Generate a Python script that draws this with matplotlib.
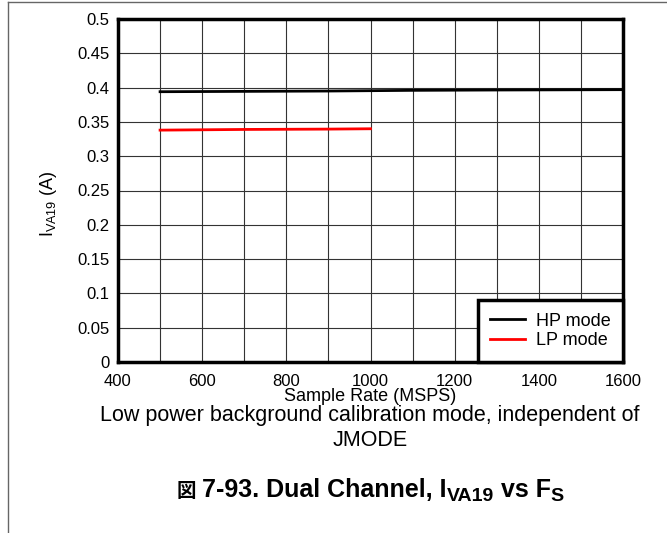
import matplotlib
matplotlib.use("Agg")
import matplotlib.pyplot as plt
from matplotlib.lines import Line2D

plt.rcParams['font.family'] = ['Liberation Sans', 'Noto Sans CJK JP', 'DejaVu Sans']
plt.rcParams['mathtext.fontset'] = 'custom'
plt.rcParams['mathtext.rm'] = 'Liberation Sans'
plt.rcParams['mathtext.it'] = 'Liberation Sans'
plt.rcParams['mathtext.bf'] = 'Liberation Sans:bold'

# data
hp_rate = [500, 700, 900, 1100, 1300, 1600]
hp_current = [0.394, 0.3945, 0.395, 0.396, 0.3965, 0.397]
lp_rate = [500, 700, 900, 1000]
lp_current = [0.338, 0.339, 0.3395, 0.340]

x_ticks = [400, 600, 800, 1000, 1200, 1400, 1600]
y_ticks = [0, 0.05, 0.1, 0.15, 0.2, 0.25, 0.3, 0.35, 0.4, 0.45, 0.5]
y_labels = ['0', '0.05', '0.1', '0.15', '0.2', '0.25', '0.3', '0.35', '0.4', '0.45', '0.5']

W, H = 667, 533


def caption(fig, x0, y, pieces):
    # lay out text pieces one after another (for subscripts and the CJK mark)
    r = fig.canvas.get_renderer()
    x = x0
    for txt, size, dy in pieces:
        t = fig.text(x / W, 1 - (y + dy) / H, txt, ha='left', va='baseline',
                     fontsize=size, fontweight='bold')
        bb = t.get_window_extent(renderer=r)
        x += bb.width


def main():
    fig = plt.figure(figsize=(6.67, 5.33), dpi=100)
    ax = fig.add_axes([118 / W, 1 - 362 / H, (623 - 118) / W, (362 - 19) / H])

    ax.plot(hp_rate, hp_current, color='black', lw=2, label='HP mode', zorder=3)
    ax.plot(lp_rate, lp_current, color='#ff0000', lw=2, label='LP mode', zorder=3)

    ax.set_xlim(400, 1600)
    ax.set_ylim(0, 0.5)
    ax.set_xticks(x_ticks)
    ax.set_xticks(range(400, 1601, 100), minor=True)
    ax.set_yticks(y_ticks)
    ax.set_yticklabels(y_labels)
    ax.grid(True, which='both', color='#333333', lw=0.8)
    ax.tick_params(which='both', length=0, labelsize=12)
    ax.tick_params(axis='x', pad=9)
    ax.tick_params(axis='y', pad=6)
    for s in ax.spines.values():
        s.set_linewidth(2.5)
        s.set_zorder(4)

    ax.set_xlabel('Sample Rate (MSPS)', fontsize=13, labelpad=-1)
    ax.set_ylabel(r'I$_{\mathrm{VA19}}$ (A)', fontsize=13)
    ax.yaxis.set_label_coords(-0.117, 0.46)

    leg = ax.legend(loc='lower right', borderaxespad=0, fancybox=False,
                    edgecolor='black', fontsize=13, handlelength=1.9,
                    borderpad=0.7, labelspacing=0.15, handletextpad=0.6)
    leg.get_frame().set_linewidth(2.5)
    leg.get_frame().set_alpha(1)
    leg.set_zorder(5)

    # page border lines
    fig.add_artist(Line2D([8 / W, 8 / W], [0, 1 - 2 / H], color='#666666', lw=1))
    fig.add_artist(Line2D([8 / W, 1], [1 - 2 / H, 1 - 2 / H], color='#666666', lw=1))

    cx = 370 / W
    fig.text(cx, 1 - 415 / H, 'Low power background calibration mode, independent of',
             ha='center', va='center', fontsize=15.5)
    fig.text(cx, 1 - 441 / H, 'JMODE', ha='center', va='center', fontsize=15.5)
    caption(fig, 177, 497, [('図 ', 14, 0), ('7-93. Dual Channel, I', 18, 0),
                            ('VA19', 14, 4), (' vs F', 18, 0), ('S', 14, 4)])

    fig.savefig('out.png', dpi=100)


if __name__ == "__main__":
    main()
